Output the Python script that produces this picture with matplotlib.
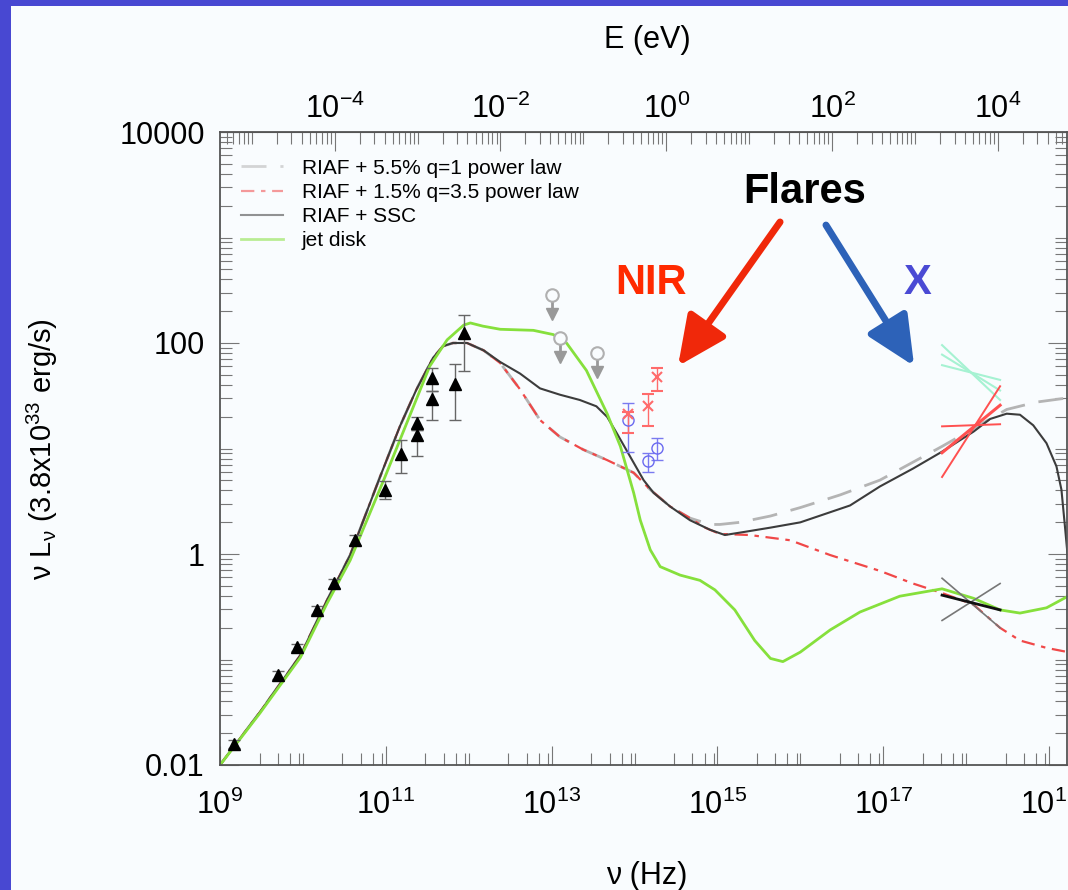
import numpy as np
import matplotlib
matplotlib.use("Agg")
import matplotlib.pyplot as plt
from matplotlib.ticker import FixedLocator, LogFormatterMathtext, NullFormatter, FuncFormatter
from matplotlib.patches import Rectangle

plt.rcParams['font.family'] = ['Liberation Sans', 'DejaVu Sans']
plt.rcParams['mathtext.fontset'] = 'custom'
plt.rcParams['mathtext.rm'] = 'Liberation Sans'
plt.rcParams['mathtext.it'] = 'Liberation Sans:italic'
plt.rcParams['mathtext.default'] = 'regular'

H_EV = 4.135667e-15     # eV s

# model curves, log10(nu/Hz) and log10(nu L_nu / 3.8e33 erg/s)
rise_lgnu = [9.00, 9.48, 9.97, 10.29, 10.57, 10.93, 11.17, 11.37, 11.57, 11.69, 11.81, 11.98, 12.18]
rise_lgL = [-2.00, -1.50, -0.96, -0.44, -0.01, 0.73, 1.21, 1.56, 1.86, 1.97, 2.00, 2.00, 1.93]

ssc_lgnu = [12.38, 12.62, 12.86, 13.10, 13.34, 13.54, 13.67, 13.79, 13.95, 14.11, 14.23, 14.43, 14.67,
            14.91, 15.09, 15.33, 15.64, 16.00, 16.60, 16.96, 17.36, 17.71, 18.09, 18.29, 18.49, 18.65,
            18.81, 18.97, 19.09, 19.15, 19.19, 19.23]
ssc_lgL = [1.82, 1.71, 1.57, 1.51, 1.46, 1.40, 1.30, 1.14, 0.92, 0.70, 0.58, 0.45, 0.32,
           0.23, 0.18, 0.21, 0.25, 0.30, 0.46, 0.64, 0.81, 0.97, 1.16, 1.28, 1.33, 1.32,
           1.22, 1.05, 0.83, 0.61, 0.28, -0.06]

pl55_lgnu = [12.38, 12.62, 12.86, 13.10, 13.38, 13.67, 13.99, 14.19, 14.43, 14.67, 14.91, 15.03,
             15.27, 15.64, 16.00, 16.48, 16.96, 17.71, 18.09, 18.49, 18.85, 19.23]
pl55_lgL = [1.81, 1.56, 1.27, 1.11, 0.99, 0.89, 0.77, 0.61, 0.45, 0.34, 0.28, 0.28,
            0.30, 0.36, 0.44, 0.56, 0.70, 1.02, 1.19, 1.37, 1.44, 1.48]

pl15_lgnu = [12.38, 12.62, 12.86, 13.10, 13.38, 13.67, 13.99, 14.19, 14.43, 14.67, 14.85, 15.03,
             15.39, 15.88, 16.36, 16.96, 17.36, 17.71, 18.09, 18.41, 18.65, 18.97, 19.23]
pl15_lgL = [1.81, 1.56, 1.27, 1.11, 0.99, 0.89, 0.77, 0.61, 0.45, 0.34, 0.25, 0.19,
            0.18, 0.13, -0.01, -0.16, -0.28, -0.37, -0.48, -0.70, -0.82, -0.89, -0.93]

jet_lgnu = [9.00, 9.48, 9.97, 10.29, 10.57, 10.99, 11.17, 11.53, 11.74, 11.94, 12.02, 12.17, 12.38,
            12.78, 13.02, 13.18, 13.42, 13.67, 13.83, 13.99, 14.07, 14.19, 14.31, 14.55, 14.79,
            14.97, 15.21, 15.45, 15.64, 15.79, 16.00, 16.36, 16.72, 17.20, 17.71, 18.09, 18.41,
            18.65, 18.97, 19.23]
jet_lgL = [-2.00, -1.51, -0.98, -0.47, -0.06, 0.73, 1.08, 1.78, 2.03, 2.17, 2.19, 2.16, 2.13,
           2.12, 2.08, 2.00, 1.74, 1.33, 1.02, 0.58, 0.32, 0.04, -0.12, -0.20, -0.25,
           -0.34, -0.53, -0.82, -0.99, -1.02, -0.93, -0.72, -0.55, -0.40, -0.33, -0.42, -0.53,
           -0.56, -0.51, -0.40]

# radio / submm measurements
obs_nu = [1.49e9, 5.05e9, 8.41e9, 1.49e10, 2.37e10, 4.25e10, 9.8e10, 1.52e11, 2.38e11, 2.38e11,
          3.6e11, 3.6e11, 6.84e11, 8.77e11]
obs_L = [0.0158, 0.0713, 0.130, 0.294, 0.531, 1.36, 4.04, 8.87, 13.4, 17.5, 29.5, 46.6, 40.9, 124]
obs_lo = [0.0145, 0.066, 0.12, 0.27, 0.48, 1.22, 3.3, 5.9, 8.5, 15, 18.6, 35, 18.6, 54]
obs_hi = [0.0172, 0.077, 0.14, 0.32, 0.58, 1.5, 4.9, 12.1, 15, 20, 35, 58, 63, 184]

# mid-IR upper limits
lim_nu = [1.0e13, 1.26e13, 3.5e13]
lim_L = [285, 111, 79.8]

# NIR quiescent (blue) and flare (red)
nir_nu = [8.4e13, 1.47e14, 1.88e14]
nirq_L = [18.6, 7.62, 10.2]
nirq_lo = [9.33, 5.94, 7.78]
nirq_hi = [26.8, 9.12, 12.5]
nirf_L = [21.1, 25.5, 48.0]
nirf_lo = [13.9, 16.4, 35.3]
nirf_hi = [22.3, 32.7, 57.5]

# 2-10 keV bowties, log10 L at both band edges
xband_lgnu = [17.71, 18.41]
xflare_green = [[1.98, 1.46], [1.89, 1.55], [1.79, 1.65]]
xflare_red = [[1.21, 1.23], [0.73, 1.59], [0.96, 1.41]]
xquiet_gray = [[-0.23, -0.70], [-0.63, -0.28]]
xquiet_black = [-0.39, -0.53]

fig = plt.figure(figsize=(10.68, 8.9), dpi=100, facecolor='#f9fcfe')
ax = fig.add_axes([220 / 1068, 1 - 765 / 890, 847 / 1068, 633 / 890])
ax.set_facecolor('#f9fcfe')
ax.set_xscale('log')
ax.set_yscale('log')
ax.set_xlim(1e9, 10 ** (9 + 847 / 82.9))
ax.set_ylim(1e-2, 1e4)

def pw(a):
    return 10 ** np.asarray(a)

l1, = ax.plot(pw(rise_lgnu + pl55_lgnu), pw(rise_lgL + pl55_lgL), color='#b4b4b4', lw=2,
              dashes=(9, 5), label='RIAF + 5.5% q=1 power law')
l2, = ax.plot(pw(rise_lgnu + pl15_lgnu), pw(rise_lgL + pl15_lgL), color='#f04848', lw=1.6,
              dashes=(6, 3, 2, 3), label='RIAF + 1.5% q=3.5 power law')
l3, = ax.plot(pw(rise_lgnu + ssc_lgnu), pw(rise_lgL + ssc_lgL), color='#3c3c3c', lw=1.5,
              label='RIAF + SSC')
l4, = ax.plot(pw(jet_lgnu), pw(jet_lgL), color='#86e03c', lw=2, label='jet disk')

# data points
obs_L_arr = np.array(obs_L)
ax.errorbar(obs_nu, obs_L, yerr=[obs_L_arr - obs_lo, np.array(obs_hi) - obs_L_arr], fmt='^',
            color='black', ms=8, ecolor='#666666', elinewidth=1, capsize=4, capthick=1, zorder=5)

lim_L_arr = np.array(lim_L)
ax.vlines(lim_nu, lim_L_arr * 0.62, lim_L_arr, color='#999999', lw=2, zorder=5)
ax.plot(lim_nu, lim_L_arr * 0.66, 'v', color='#999999', ms=9, zorder=5)
ax.plot(lim_nu, lim_L, 'o', mfc='#f9fcfe', mec='#b0b0b0', mew=1.5, ms=9, zorder=6)

q = np.array(nirq_L)
ax.errorbar(nir_nu, nirq_L, yerr=[q - nirq_lo, np.array(nirq_hi) - q], fmt='o', mfc='none',
            mec='#6a6af0', ecolor='#7a7af0', ms=8, elinewidth=1, capsize=4, zorder=5)
f = np.array(nirf_L)
ax.errorbar(nir_nu, nirf_L, yerr=[f - nirf_lo, np.array(nirf_hi) - f], fmt='x', color='#ff6b6b',
            ms=7, mew=1.5, elinewidth=1, capsize=4, zorder=5)

band = pw(xband_lgnu)
for seg in xflare_green:
    ax.plot(band, pw(seg), color='#a6f2d2', lw=1.5)
for i, seg in enumerate(xflare_red):
    ax.plot(band, pw(seg), color='#ff5050', lw=2.2 if i == 2 else 1.4)
for seg in xquiet_gray:
    ax.plot(band, pw(seg), color='#777777', lw=1.2)
ax.plot(band, pw(xquiet_black), color='#111111', lw=2)

# ticks
ax.xaxis.set_major_locator(FixedLocator([10.0 ** n for n in range(9, 20, 2)]))
ax.xaxis.set_minor_locator(FixedLocator([m * 10.0 ** n for n in range(9, 20) for m in (3, 5, 7, 9)]
                                        + [10.0 ** n for n in range(10, 20, 2)]))
ax.xaxis.set_major_formatter(LogFormatterMathtext())
ax.xaxis.set_minor_formatter(NullFormatter())
ax.yaxis.set_major_locator(FixedLocator([1e-2, 1, 1e2, 1e4]))
ax.yaxis.set_minor_locator(FixedLocator([m * 10.0 ** n for n in range(-2, 4) for m in range(2, 10)]
                                        + [0.1, 10, 1000]))
ax.yaxis.set_major_formatter(FuncFormatter(lambda v, p: f'{v:g}'))
ax.yaxis.set_minor_formatter(NullFormatter())
ax.tick_params(which='both', direction='in', top=False, right=True, color='#777777', width=0.8,
               labelsize=22)
ax.tick_params(which='major', length=14)
ax.tick_params(which='minor', length=8.5)
ax.tick_params(axis='x', pad=18)
ax.tick_params(axis='y', pad=11)
for sp in ax.spines.values():
    sp.set_color('#555555')
    sp.set_linewidth(1.3)

sec = ax.secondary_xaxis('top', functions=(lambda nu: nu * H_EV, lambda e: e / H_EV))
sec.xaxis.set_major_locator(FixedLocator([1e-4, 1e-2, 1, 1e2, 1e4]))
sec.xaxis.set_minor_locator(FixedLocator([m * 10.0 ** n for n in range(-6, 5) for m in range(2, 10)]
                                         + [10.0 ** n for n in range(-5, 5, 2)]))
sec.xaxis.set_major_formatter(LogFormatterMathtext())
sec.xaxis.set_minor_formatter(NullFormatter())
sec.tick_params(which='both', direction='in', color='#777777', width=0.8, labelsize=22, pad=5)
sec.tick_params(which='major', length=14)
sec.tick_params(which='minor', length=8.5)
sec.spines['top'].set_color('#555555')

fig.text(647 / 1068, 1 - 40 / 890, 'E (eV)', fontsize=22, ha='center', va='center')
fig.text(647 / 1068, 1 - 876 / 890, 'ν (Hz)', fontsize=22, ha='center', va='center')
fig.text(42 / 1068, 1 - 449 / 890, r'ν L$_ν$ (3.8x10$^{33}$ erg/s)', fontsize=21,
         rotation=90, ha='center', va='center')

leg = ax.legend(handles=[l1, l2, l3, l4], loc='upper left', bbox_to_anchor=(0.025, 0.958),
                frameon=False, fontsize=15, borderpad=0, borderaxespad=0, handlelength=2.0,
                handletextpad=0.9, labelspacing=0.25)
for h in leg.get_lines():
    h.set_alpha(0.55)

# flare annotations
ax.text(1.14e16, 2700, 'Flares', fontsize=30, fontweight='bold', ha='center', va='center')
ax.text(1.58e14, 371, 'NIR', fontsize=30, fontweight='bold', color='#ff2a00', ha='center', va='center')
ax.text(2.63e17, 371, 'X', fontsize=30, fontweight='bold', color='#4a4ad4', ha='center', va='center')
ax.annotate('', xy=(3.35e14, 60.5), xytext=(5.7e15, 1403),
            arrowprops=dict(arrowstyle='-|>,head_length=1.5,head_width=0.7', lw=5, color='#f0280a',
                            mutation_scale=20, shrinkA=0, shrinkB=0))
ax.annotate('', xy=(2.36e17, 60.5), xytext=(2.04e16, 1312),
            arrowprops=dict(arrowstyle='-|>,head_length=1.5,head_width=0.7', lw=5, color='#2d62b8',
                            mutation_scale=20, shrinkA=0, shrinkB=0))

# slide frame
fig.add_artist(Rectangle((0, 0), 11 / 1068, 1, transform=fig.transFigure, facecolor='#4848d2',
                         edgecolor='none', zorder=10))
fig.add_artist(Rectangle((0, 1 - 6 / 890), 1, 6 / 890, transform=fig.transFigure,
                         facecolor='#4848d2', edgecolor='none', zorder=10))

fig.savefig('out.png', dpi=100, facecolor=fig.get_facecolor())
